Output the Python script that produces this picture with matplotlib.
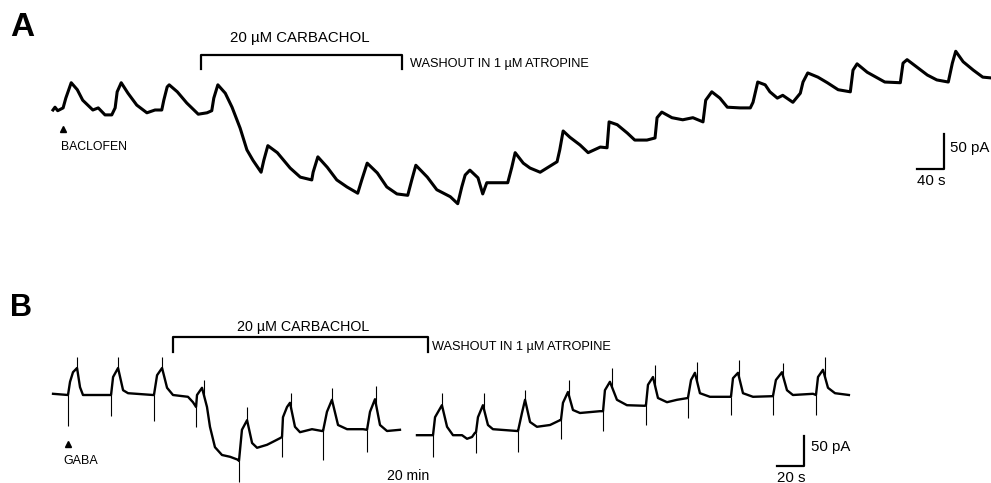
import matplotlib.pyplot as plt
import numpy as np

plt.rcParams['font.family'] = ['Liberation Sans', 'DejaVu Sans']

# ---- panel A : baclofen responses, time (s) / current (pA) ----
a_t = [0, 3, 7, 15, 19, 27, 36, 44, 59, 67, 77, 87, 92, 95, 101, 111, 124, 139, 151, 161,
       164, 169, 172, 184, 198, 215, 228, 235, 238, 244, 255, 265, 277, 287, 296, 308, 312,
       318, 332, 351, 366, 383, 385, 392, 406, 420, 435, 451, 457, 465, 480, 494, 509, 525,
       531, 537, 554, 568, 588, 599, 605, 610, 617, 629, 636, 642, 657, 673, 679, 684, 696,
       706, 721, 746, 750, 755, 765, 780, 792, 810, 820, 823, 835, 850, 861, 879, 891, 894,
       901, 916, 932, 947, 962, 966, 975, 987, 998, 1017, 1032, 1036, 1043, 1054, 1061, 1072,
       1080, 1095, 1106, 1110, 1117, 1132, 1146, 1162, 1180, 1184, 1190, 1205, 1220, 1231,
       1254, 1258, 1264, 1279, 1294, 1308, 1325, 1331, 1336, 1347, 1362, 1376, 1387]
a_pA = [0, 4, -1, 3, 17, 39, 29, 14, 0, 3, -7, -7, 3, 26, 39, 24, 7, -4, 0, 0,
        14, 33, 36, 26, 10, -6, -4, -1, 17, 36, 24, 4, -26, -57, -72, -89, -72,
        -51, -61, -83, -96, -100, -89, -67, -82, -100, -110, -119, -100, -76, -90, -110, -120, -122,
        -100, -79, -96, -114, -124, -134, -110, -93, -86, -97, -120, -104, -104, -104, -82, -61, -76,
        -83, -89, -74, -57, -30, -39, -50, -61, -53, -54, -17, -21, -33, -43, -43, -40, -11,
        -3, -11, -14, -11, -17, 14, 26, 17, 4, 3, 3, 11, 40, 36, 26, 17,
        21, 11, 24, 40, 53, 47, 39, 29, 26, 57, 66, 54, 46, 40,
        39, 67, 72, 61, 50, 43, 40, 67, 84, 69, 57, 47, 46]

# ---- panel B : GABA responses, before and after the 20 min break ----
b1_t = [0, 11.1, 12.6, 14.8, 17.8, 20.0, 22.2, 40.0, 43.0, 44.5, 48.2, 51.9, 55.6, 74.1,
        74.8, 77.1, 80.8, 84.5, 88.9, 100.0, 103.7, 106.0, 106.7, 110.4, 114.1, 116.3, 120.0,
        125.2, 131.2, 137.1, 137.8, 140.0, 143.8, 147.5, 151.2, 158.6, 163.0, 168.2, 169.7,
        170.4, 173.4, 175.6, 179.3, 183.0, 191.9, 199.3, 200.1, 203.0, 206.7, 211.2, 217.9,
        229.7, 232.7, 234.9, 238.6, 242.3, 247.5, 257.1]
b1_pA = [2, 0, 22, 38, 45, 13, 0, 0, 0, 30, 45, 8, 3, 0,
         0, 33, 45, 12, 0, -3, -12, -20, 0, 12, -20, -53, -87,
         -100, -103, -108, -110, -58, -42, -80, -88, -83, -78, -72, -70,
         -37, -20, -13, -53, -62, -57, -60, -60, -28, -8, -50, -57,
         -57, -58, -28, -7, -50, -60, -58]
b2_t = [269.7, 280.8, 281.6, 283.1, 288.2, 292.0, 296.4, 303.1, 306.8, 310.5, 312.7, 313.4,
        314.9, 318.6, 322.3, 326.0, 343.8, 344.6, 347.5, 349.8, 353.5, 358.6, 368.3, 375.7,
        376.4, 377.9, 381.6, 385.3, 390.5, 405.3, 407.6, 409.0, 412.7, 417.9, 425.3, 438.7,
        439.4, 440.9, 444.6, 448.3, 455.0, 462.4, 470.5, 472.8, 475.7, 479.4, 486.8, 501.7,
        502.4, 503.9, 507.6, 511.3, 518.7, 532.8, 533.5, 535.7, 540.2, 543.9, 548.3, 563.2,
        565.4, 566.9, 570.6, 574.3, 579.5, 589.8]
b2_pA = [-67, -67, -67, -37, -17, -53, -67, -67, -73, -70, -63, -63,
         -37, -17, -50, -57, -60, -60, -30, -8, -45, -53, -50, -42,
         -42, -13, 5, -25, -30, -27, -27, 8, 22, -8, -17, -18,
         -17, 17, 30, -5, -12, -8, -5, 25, 37, 3, -3, -3,
         -3, 28, 37, 3, -3, -2, -2, 25, 38, 8, 0, 2,
         0, 30, 42, 12, 3, 0]

# stimulus artefacts: downward at onset, upward at the peak
b_on_t = [11.1, 43.0, 74.8, 106.0, 137.8, 169.7, 200.1, 232.7, 281.6, 313.4, 344.6,
          376.4, 407.6, 439.4, 470.5, 502.4, 533.5, 565.4]
b_on_min = [-52, -35, -43, -53, -145, -103, -108, -95, -103, -97, -95,
            -73, -60, -50, -38, -33, -33, -33]
b_pk_t = [17.8, 48.2, 80.8, 111.9, 143.8, 176.4, 206.7, 239.3, 288.2, 319.4, 349.8,
          382.4, 414.2, 446.1, 477.2, 508.4, 540.9, 572.0]
b_pk_max = [63, 63, 63, 25, -20, 3, 12, 15, 3, 3, 8,
            25, 45, 50, 55, 58, 53, 63]

fig = plt.figure(figsize=(9.91, 4.83), dpi=100)

# panel A
axA = fig.add_axes([0, 1 - 240 / 483, 1, 240 / 483])
axA.set_xlim(-78.4, 1388.2)
axA.set_ylim(-185.9, 157.3)
axA.axis('off')
axA.plot(a_t, a_pA, color='black', lw=2.2, solid_joinstyle='round', clip_on=False)
axA.plot([219, 219, 517, 517], [58, 79, 79, 58], color='black', lw=1.6)
axA.text(366, 103, '20 µM CARBACHOL', ha='center', va='center', fontsize=10.8)
axA.text(528, 66, 'WASHOUT IN 1 µM ATROPINE', ha='left', va='center', fontsize=9.2)
axA.plot([15], [-27], marker='^', color='black', ms=4.5)
axA.text(12, -53, 'BACLOFEN', ha='left', va='center', fontsize=8.8)
axA.plot([1279, 1319, 1319], [-84, -84, -34], color='black', lw=1.6)
axA.text(1327, -54, '50 pA', ha='left', va='center', fontsize=10.8)
axA.text(1279, -101, '40 s', ha='left', va='center', fontsize=10.8)

# panel B
axB = fig.add_axes([0, 0, 1, 243 / 483])
axB.set_xlim(-39.3, 695.1)
axB.set_ylim(-146.7, 258.4)
axB.axis('off')
axB.plot(b1_t, b1_pA, color='black', lw=1.7, solid_joinstyle='round', clip_on=False)
axB.plot(b2_t, b2_pA, color='black', lw=1.7, solid_joinstyle='round', clip_on=False)
all_t = np.array(b1_t + b2_t)
all_pA = np.array(b1_pA + b2_pA)
axB.vlines(b_on_t, b_on_min, np.interp(b_on_t, all_t, all_pA), color='black', lw=0.8)
axB.vlines(b_pk_t, np.interp(b_pk_t, all_t, all_pA), b_pk_max, color='black', lw=0.8)
axB.plot([88.9, 88.9, 277.9, 277.9], [72, 97, 97, 72], color='black', lw=1.6)
axB.text(185.3, 113, '20 µM CARBACHOL', ha='center', va='center', fontsize=10.3)
axB.text(281, 80, 'WASHOUT IN 1 µM ATROPINE', ha='left', va='center', fontsize=9.2)
axB.plot([11.1], [-82], marker='^', color='black', ms=4.5)
axB.text(7.4, -110, 'GABA', ha='left', va='center', fontsize=9.0)
axB.text(263, -135, '20 min', ha='center', va='center', fontsize=10.2)
axB.plot([536.5, 556.5, 556.5], [-118, -118, -68], color='black', lw=1.6)
axB.text(561.7, -87, '50 pA', ha='left', va='center', fontsize=10.8)
axB.text(536.5, -138, '20 s', ha='left', va='center', fontsize=10.8)

fig.text(0.010, 0.944, 'A', fontsize=24, fontweight='bold', va='center', ha='left')
fig.text(0.010, 0.363, 'B', fontsize=22, fontweight='bold', va='center', ha='left')

fig.savefig('out.png', dpi=100)
